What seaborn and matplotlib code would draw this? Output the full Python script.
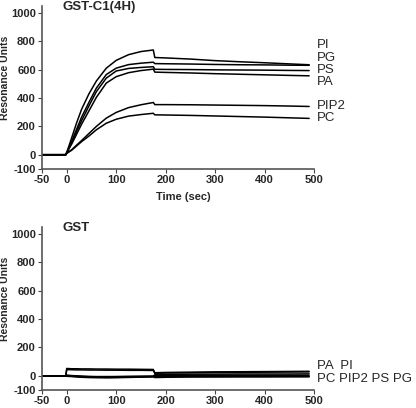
import matplotlib

matplotlib.use("Agg", force=True)

import matplotlib.pyplot as plt
import pandas as pd
import seaborn as sns

# time points (sec)
time = [-50, -2, 0, 10, 20, 30, 45, 60, 80, 100, 125, 150, 175,
        178, 200, 250, 300, 350, 400, 450, 490]

# GST-C1(4H) panel
c1_pi = [0, 0, 15, 120, 225, 320, 430, 520, 610, 665, 705, 727, 738,
         685, 682, 674, 663, 655, 648, 640, 634]
c1_pg = [0, 0, 15, 95, 180, 265, 370, 470, 565, 610, 635, 645, 652,
         642, 641, 639, 636, 634, 633, 631, 630]
c1_ps = [0, 0, 15, 85, 165, 240, 345, 445, 540, 590, 608, 615, 620,
         602, 601, 600, 598, 597, 596, 594, 593]
c1_pa = [0, 0, 15, 75, 145, 215, 310, 405, 505, 550, 578, 593, 603,
         582, 580, 576, 571, 567, 563, 559, 556]
c1_pip2 = [0, 0, 10, 35, 68, 100, 150, 200, 258, 298, 332, 352, 368,
           353, 353, 352, 350, 348, 346, 343, 340]
c1_pc = [0, 0, 10, 32, 62, 92, 132, 176, 222, 250, 272, 283, 292,
         281, 280, 277, 273, 269, 265, 260, 256]

# GST control panel
gst_pa = [0, 0, 52, 50, 50, 49, 49, 48, 48, 47, 47, 46, 45,
          22, 24, 26, 28, 29, 30, 31, 32]
gst_pi = [0, 0, 44, 43, 42, 42, 41, 41, 40, 40, 39, 39, 38,
          18, 20, 22, 24, 25, 26, 27, 28]
gst_pc = [0, 0, -3, -5, -8, -10, -12, -13, -14, -13, -11, -9, -6,
          -12, -10, -8, -7, -6, -6, -5, -5]
gst_pip2 = [0, 0, 5, 2, 0, -2, -4, -5, -5, -5, -4, -3, -2,
            8, 10, 12, 12, 13, 13, 13, 14]
gst_ps = [0, 0, 2, 0, -2, -4, -6, -7, -7, -6, -5, -4, -3,
          2, 3, 3, 4, 4, 4, 4, 4]
gst_pg = [0, 0, 0, -2, -4, -6, -8, -9, -10, -10, -9, -8, -7,
          -4, -5, -5, -6, -6, -6, -6, -6]

lipids = ["PI", "PG", "PS", "PA", "PIP2", "PC"]
top_labels = ["PI", "PG", "PS", "PA", "PIP2", "PC"]
bottom_labels = ["PA  PI", "PC PIP2 PS PG"]
panel_titles = ["GST-C1(4H)", "GST"]
x_ticks = [-50, 0, 100, 200, 300, 400, 500]
y_ticks = [-100, 0, 200, 400, 600, 800, 1000]


def long_form(series):
    rows = []
    for name, vals in zip(lipids, series):
        rows.append(pd.DataFrame({"time": time, "ru": vals, "lipid": name}))
    return pd.concat(rows, ignore_index=True)


top_df = long_form([c1_pi, c1_pg, c1_ps, c1_pa, c1_pip2, c1_pc])
bot_df = long_form([gst_pi, gst_pg, gst_ps, gst_pa, gst_pip2, gst_pc])

sns.set_style("ticks")
plt.rcParams["font.family"] = ["Liberation Sans", "DejaVu Sans"]

fig = plt.figure(figsize=(4.16, 4.08), dpi=100)
ax_top = fig.add_axes([0.101, 0.586, 0.654, 0.400])
ax_bot = fig.add_axes([0.101, 0.044, 0.654, 0.400])

black = {name: "black" for name in lipids}
for ax, df, title in [(ax_top, top_df, panel_titles[0]), (ax_bot, bot_df, panel_titles[1])]:
    sns.lineplot(data=df, x="time", y="ru", hue="lipid", palette=black,
                 legend=False, linewidth=1.1, ax=ax, estimator=None, sort=False)
    ax.set_xlim(-50, 500)
    ax.set_ylim(-100, 1050)
    ax.set_xticks(x_ticks)
    ax.set_yticks(y_ticks)
    ax.set_xticklabels([str(v) for v in x_ticks], fontsize=8, fontweight="bold")
    ax.set_yticklabels([str(v) for v in y_ticks], fontsize=8, fontweight="bold")
    ax.tick_params(length=3, width=0.8, pad=1.5, color="#444444")
    ax.set_ylabel("Resonance Units", fontsize=7.5, fontweight="bold")
    ax.yaxis.set_label_coords(-0.118, 0.56)
    ax.set_xlabel("")
    for side in ["top", "right"]:
        ax.spines[side].set_visible(False)
    for side in ["left", "bottom"]:
        ax.spines[side].set_color("#555555")
        ax.spines[side].set_linewidth(1.2)
    ax.text(0.074, 0.99, title, transform=ax.transAxes, fontsize=9.5,
            fontweight="bold", ha="left", va="center")

ax_top.set_xlabel("Time (sec)", fontsize=8, fontweight="bold")
ax_top.xaxis.set_label_coords(0.52, -0.14)

top_label_y = [773, 682, 598, 514, 345, 262]
for lab, y in zip(top_labels, top_label_y):
    ax_top.text(506, y, lab, fontsize=9.5, ha="left", va="center", clip_on=False)

for lab, y in zip(bottom_labels, [67, -21]):
    ax_bot.text(506, y, lab, fontsize=9.5, ha="left", va="center", clip_on=False)

fig.savefig("out.png", dpi=100)
